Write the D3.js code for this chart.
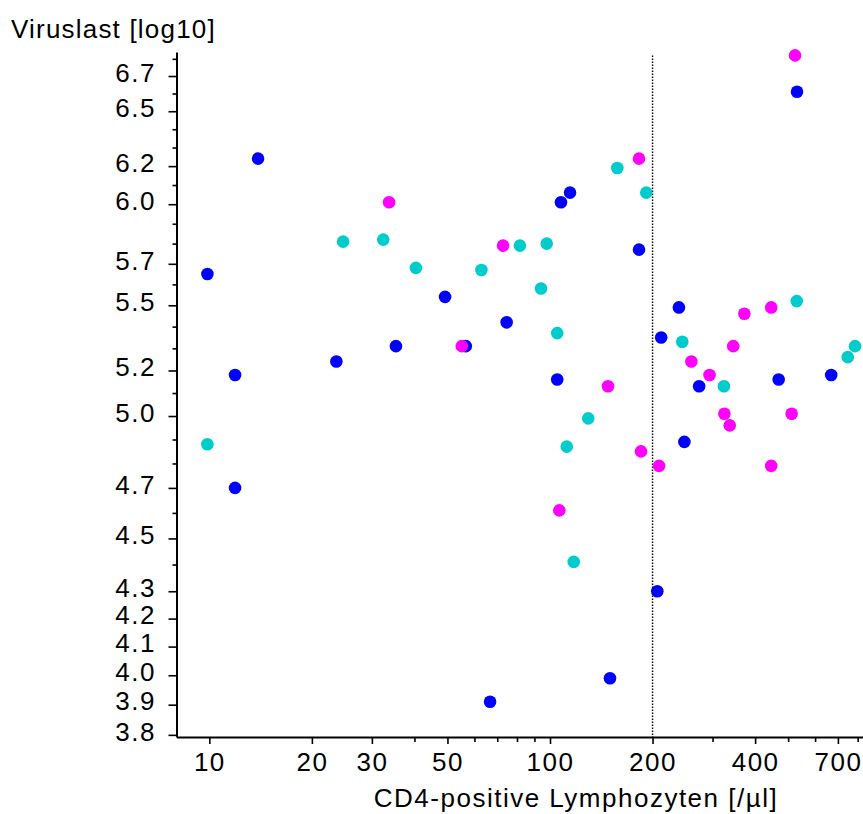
<!DOCTYPE html>
<html>
<head>
<meta charset="utf-8">
<script src="https://cdn.jsdelivr.net/npm/d3@7"></script>
<style>
  body { margin: 0; background: #fff; }
  svg text { font-family: "Liberation Sans", Arial, sans-serif; fill: #000; letter-spacing: 1.5px; }
</style>
</head>
<body>
<div id="chart"></div>
<script>
/* Scatter: viral load vs CD4 count, three groups */

// group 1 (blue)
const blueCD4 = [531, 13.9, 114.5, 107.7, 182.5, 9.87, 49.2, 239, 74.6, 212, 35.3, 56.6,
  23.6, 11.9, 669, 105, 469, 274, 248, 11.9, 206.5, 150, 66.7];
const blueVL = [6.61, 6.24, 6.06, 6.01, 5.77, 5.65, 5.54, 5.49, 5.42, 5.35, 5.31, 5.31,
  5.24, 5.18, 5.18, 5.16, 5.16, 5.13, 4.89, 4.70, 4.30, 3.99, 3.91];

// group 2 (cyan)
const cyanCD4 = [157.6, 191.7, 24.7, 32.4, 81.6, 97.8, 40.4, 62.9, 94.1, 530, 105, 244.5,
  786, 748, 324, 129.5, 9.87, 112, 117.4];
const cyanVL = [6.19, 6.06, 5.81, 5.82, 5.79, 5.80, 5.68, 5.67, 5.58, 5.52, 5.37, 5.33,
  5.31, 5.26, 5.13, 4.99, 4.88, 4.87, 4.41];

// group 3 (magenta)
const magentaCD4 = [524, 182.5, 33.7, 72.8, 446, 372, 345, 55.1, 260, 294, 148, 325,
  512, 337, 185, 209, 446, 106.5];
const magentaVL = [6.82, 6.24, 6.01, 5.79, 5.49, 5.46, 5.31, 5.31, 5.24, 5.18, 5.13, 5.01,
  5.01, 4.96, 4.85, 4.79, 4.79, 4.61];

// axis ticks
const xTicksMajor = [10, 20, 30, 50, 100, 200, 400, 700];
const xTicksMinor = [40, 60, 70, 80, 90, 300, 500, 600, 800];
const yTicksMajor = [3.8, 3.9, 4.0, 4.1, 4.2, 4.3, 4.5, 4.7, 5.0, 5.2, 5.5, 5.7, 6.0, 6.2, 6.5, 6.7];
const yTicksMinor = [4.4, 4.6, 4.8, 4.9, 5.1, 5.3, 5.4, 5.6, 5.8, 5.9, 6.1, 6.3, 6.4, 6.6, 6.8];

const threshold = 200;      // CD4 cut-off (dotted line)
const thresholdTop = 6.82;  // dotted line runs up to here

let width = 863,
  height = 814;

const svg = d3
  .select("#chart")
  .append("svg")
  .attr("width", width)
  .attr("height", height);

let x = d3.scaleLog().domain([8.01, 829.4]).range([176.5, 863]);
let y = d3.scaleLog().domain([3.793, 6.84]).range([737, 52]);

// y axis
let yMajor = svg
  .append("g")
  .attr("transform", `translate(176.5,0)`)
  .call(d3.axisLeft(y).tickValues(yTicksMajor).tickFormat(d3.format(".1f")).tickSize(8).tickSizeOuter(0));
yMajor.selectAll("text").attr("x", -20.5).attr("dy", "0.2em").attr("font-size", 26);

svg
  .append("g")
  .attr("transform", `translate(176.5,0)`)
  .call(d3.axisLeft(y).tickValues(yTicksMinor).tickFormat("").tickSize(4))
  .call((g) => g.select(".domain").remove());

// x axis
let xMajor = svg
  .append("g")
  .attr("transform", `translate(0,737)`)
  .call(d3.axisBottom(x).tickValues(xTicksMajor).tickFormat(d3.format("d")).tickSize(7).tickSizeOuter(0));
xMajor.selectAll("text").attr("y", 16).attr("font-size", 26);

svg
  .append("g")
  .attr("transform", `translate(0,737)`)
  .call(d3.axisBottom(x).tickValues(xTicksMinor).tickFormat("").tickSize(5))
  .call((g) => g.select(".domain").remove());

svg.selectAll(".domain").attr("stroke", "#000").attr("stroke-width", 2);
svg.selectAll(".tick line").attr("stroke", "#000").attr("stroke-width", 1.6);

// dotted threshold line
svg
  .append("line")
  .attr("x1", x(threshold))
  .attr("x2", x(threshold))
  .attr("y1", y(thresholdTop))
  .attr("y2", y.range()[0])
  .attr("stroke", "#000")
  .attr("stroke-width", 1.4)
  .attr("stroke-dasharray", "1.5,1.5");

// points
const groups = [
  { cd4: blueCD4, vl: blueVL, color: "#0000ff" },
  { cd4: cyanCD4, vl: cyanVL, color: "#00cccc" },
  { cd4: magentaCD4, vl: magentaVL, color: "#ff00ff" },
];

for (let grp of groups) {
  svg
    .append("g")
    .selectAll("circle")
    .data(grp.cd4.map((c, i) => [c, grp.vl[i]]))
    .join("circle")
    .attr("cx", (d) => x(d[0]))
    .attr("cy", (d) => y(d[1]))
    .attr("r", 6.3)
    .attr("fill", grp.color);
}

// labels
svg
  .append("text")
  .attr("x", 11)
  .attr("y", 38)
  .attr("font-size", 26)
  .style("letter-spacing", "1.2px")
  .text("Viruslast [log10]");

svg
  .append("text")
  .attr("x", 576)
  .attr("y", 807)
  .attr("text-anchor", "middle")
  .attr("font-size", 26)
  .text("CD4-positive Lymphozyten [/µl]");
</script>
</body>
</html>
